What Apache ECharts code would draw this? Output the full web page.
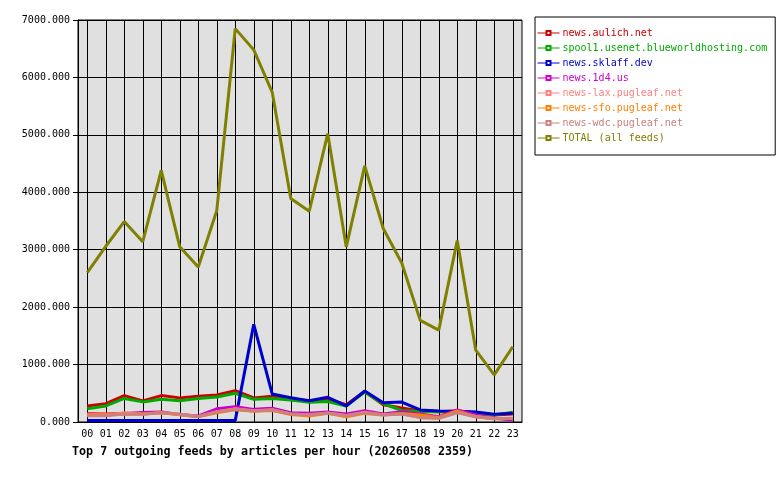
<!DOCTYPE html>
<html>
<head>
<meta charset="utf-8">
<script src="https://cdn.jsdelivr.net/npm/echarts@6/dist/echarts.min.js"></script>
<style>
  html, body { margin: 0; padding: 0; background: #fff; }
  #main { width: 780px; height: 480px; }
</style>
</head>
<body>
<div id="main"></div>
<script>
var hours = ['00','01','02','03','04','05','06','07','08','09','10','11',
             '12','13','14','15','16','17','18','19','20','21','22','23'];

var feedNames = ['news.aulich.net', 'spool1.usenet.blueworldhosting.com', 'news.sklaff.dev',
                 'news.1d4.us', 'news-lax.pugleaf.net', 'news-sfo.pugleaf.net',
                 'news-wdc.pugleaf.net', 'TOTAL (all feeds)'];
var feedColors = ['#cc0000', '#00aa00', '#0000cc', '#cc00cc', '#ff8080', '#ff8000', '#cc8080', '#808000'];

var aulich = [280, 320, 460, 365, 460, 420, 450, 470, 545, 420, 450, 410, 360, 400, 300, 530, 300, 245, 190, 180, 190, 160, 120, 140];
var spool1 = [230, 280, 410, 350, 395, 370, 410, 435, 500, 395, 410, 385, 345, 355, 280, 520, 320, 200, 185, 180, 180, 165, 120, 170];
var sklaff = [28, 28, 28, 28, 28, 28, 28, 28, 28, 1700, 487, 423, 371, 430, 279, 540, 336, 348, 209, 191, 188, 174, 134, 151];
var d4 = [150, 140, 150, 165, 175, 130, 105, 230, 265, 220, 238, 162, 151, 174, 139, 197, 139, 180, 139, 93, 209, 122, 64, 35];
var lax = [115, 115, 160, 140, 160, 130, 95, 180, 230, 195, 215, 140, 125, 155, 115, 170, 125, 145, 80, 70, 170, 95, 60, 65];
var sfo = [134, 134, 135, 140, 162, 125, 90, 160, 215, 185, 200, 130, 105, 150, 93, 150, 120, 150, 122, 80, 191, 90, 55, 60];
var wdc = [110, 110, 139, 134, 162, 134, 93, 174, 221, 191, 209, 139, 122, 151, 110, 162, 122, 139, 76, 64, 162, 93, 58, 64];
var total = [2600, 3060, 3490, 3140, 4380, 3050, 2700, 3680, 6850, 6480, 5740, 3890, 3670, 5020, 3050, 4460, 3370, 2770, 1770, 1600, 3160, 1250, 820, 1310];

var feedData = [aulich, spool1, sklaff, d4, lax, sfo, wdc, total];

var mono = '"DejaVu Sans Mono", monospace';

var myChart = echarts.init(document.getElementById('main'));

var series = [];
var legendData = [];
for (var i = 0; i < feedNames.length; i++) {
    series.push({
        name: feedNames[i],
        type: 'line',
        data: feedData[i],
        symbol: 'emptyRect',
        symbolSize: 4,
        showSymbol: false,
        lineStyle: { color: feedColors[i], width: 3 },
        itemStyle: { color: feedColors[i] },
        emphasis: { disabled: true }
    });
    legendData.push({ name: feedNames[i], textStyle: { color: feedColors[i] } });
}

var options = {
    animation: false,
    title: {
        text: 'Top 7 outgoing feeds by articles per hour (20260508 2359)',
        left: 72,
        top: 446,
        padding: 0,
        textStyle: { fontFamily: mono, fontSize: 11.7, fontWeight: 'bold', color: '#000' }
    },
    legend: {
        orient: 'vertical',
        left: 535,
        top: 17,
        padding: [10, 8, 11, 2],
        itemGap: 3,
        itemWidth: 22,
        itemHeight: 5,
        borderColor: '#000',
        borderWidth: 1,
        lineStyle: { width: 1 },
        itemStyle: { borderWidth: 1 },
        textStyle: { fontFamily: mono, fontSize: 10, lineHeight: 12, padding: [0, 0, 0, -2] },
        data: legendData
    },
    grid: {
        left: 78,
        right: 258,
        top: 20,
        bottom: 58,
        show: true,
        backgroundColor: '#e0e0e0',
        borderColor: '#000',
        borderWidth: 1
    },
    xAxis: {
        type: 'category',
        data: hours,
        boundaryGap: true,
        axisLine: { lineStyle: { color: '#000', width: 1 } },
        axisTick: { alignWithLabel: true, length: 4, lineStyle: { color: '#000' } },
        axisLabel: { fontFamily: mono, fontSize: 10, color: '#000', margin: 7, interval: 0 },
        splitLine: { show: true, alignWithLabel: true, lineStyle: { color: '#000', width: 1 } }
    },
    yAxis: {
        type: 'value',
        min: 0,
        max: 7000,
        interval: 1000,
        axisLine: { show: true, lineStyle: { color: '#000' } },
        axisTick: { show: true, length: 5, lineStyle: { color: '#000' } },
        axisLabel: {
            fontFamily: mono, fontSize: 10, color: '#000', margin: 8,
            formatter: function (v) { return v.toFixed(3); }
        },
        splitLine: { show: true, lineStyle: { color: '#000', width: 1 } }
    },
    series: series
};
myChart.setOption(options);
</script>
</body>
</html>
